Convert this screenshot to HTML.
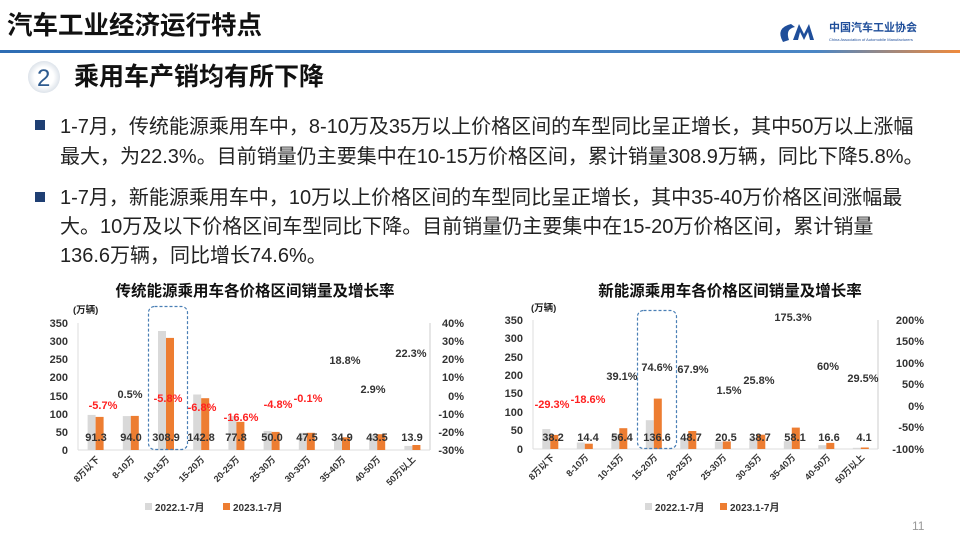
<!DOCTYPE html>
<html><head><meta charset="utf-8"><style>
body{margin:0;width:960px;height:539px;overflow:hidden;background:#fff;font-family:"Liberation Sans","Noto Sans CJK SC",sans-serif}
</style></head><body>
<svg width="960" height="539" viewBox="0 0 960 539" xmlns="http://www.w3.org/2000/svg" font-family="Liberation Sans, Noto Sans CJK SC, sans-serif">
<defs><linearGradient id="hl" x1="0" x2="1"><stop offset="0" stop-color="#2e6db4"/><stop offset="0.85" stop-color="#4a86c5"/><stop offset="1" stop-color="#f08a3c"/></linearGradient>
<radialGradient id="cg"><stop offset="0.6" stop-color="#fff"/><stop offset="1" stop-color="#dde3ea"/></radialGradient></defs>
<text x="7" y="34" font-size="25.5" font-weight="bold" fill="#111">汽车工业经济运行特点</text>
<path d="M783 42 q-8 -14 8 -18 l4 3 q-10 2 -6 13z M793 40 l6 -16 l5 10 l5 -10 l5 16 h-4 l-2 -8 l-4 8 l-4 -8 l-2 8z" fill="#1f4e9a"/>
<text x="829" y="31" font-size="11" font-weight="bold" fill="#1f4e9a">中国汽车工业协会</text>
<text x="829" y="41" font-size="4" fill="#1f4e9a">China Association of Automobile Manufacturers</text>
<rect x="0" y="50" width="960" height="3" fill="url(#hl)"/>
<circle cx="44" cy="77" r="16" fill="url(#cg)"/>
<text x="37" y="86" font-size="24" fill="#2e5b8f">2</text>
<text x="74" y="85" font-size="25" font-weight="bold" fill="#111">乘用车产销均有所下降</text>
<g font-size="20" fill="#222">
<rect x="35" y="120" width="10" height="10" fill="#1f3f73"/>
<text x="60" y="133">1-7月，传统能源乘用车中，8-10万及35万以上价格区间的车型同比呈正增长，其中50万以上涨幅</text>
<text x="60" y="163">最大，为22.3%。目前销量仍主要集中在10-15万价格区间，累计销量308.9万辆，同比下降5.8%。</text>
<rect x="35" y="192" width="10" height="10" fill="#1f3f73"/>
<text x="60" y="204">1-7月，新能源乘用车中，10万以上价格区间的车型同比呈正增长，其中35-40万价格区间涨幅最</text>
<text x="60" y="233">大。10万及以下价格区间车型同比下降。目前销量仍主要集中在15-20万价格区间，累计销量</text>
<text x="60" y="262">136.6万辆，同比增长74.6%。</text>
</g>
<!-- Left chart -->
<text x="255" y="296" font-size="15.5" font-weight="bold" text-anchor="middle" fill="#111">传统能源乘用车各价格区间销量及增长率</text>
<text x="73" y="313" font-size="9.5" font-weight="bold" fill="#222">(万辆)</text>
<g font-size="11" font-weight="bold" fill="#333" text-anchor="end">
<text x="68" y="327">350</text><text x="68" y="345">300</text><text x="68" y="363">250</text><text x="68" y="381">200</text><text x="68" y="400">150</text><text x="68" y="418">100</text><text x="68" y="436">50</text><text x="68" y="454">0</text>
</g>
<g font-size="11" font-weight="bold" fill="#333" text-anchor="end">
<text x="464" y="327">40%</text><text x="464" y="345">30%</text><text x="464" y="363">20%</text><text x="464" y="381">10%</text><text x="464" y="400">0%</text><text x="464" y="418">-10%</text><text x="464" y="436">-20%</text><text x="464" y="454">-30%</text>
</g>
<line x1="78" y1="323" x2="78" y2="450" stroke="#ddd"/><line x1="430" y1="323" x2="430" y2="450" stroke="#ccc"/><line x1="78" y1="450" x2="430" y2="450" stroke="#ddd"/>
<g fill="#d9d9d9">
<rect x="87.6" y="414.9" width="8" height="35.1"/><rect x="122.8" y="416.1" width="8" height="33.9"/><rect x="158" y="331" width="8" height="119"/><rect x="193.2" y="394.5" width="8" height="55.5"/><rect x="228.4" y="416.1" width="8" height="33.9"/><rect x="263.6" y="430.9" width="8" height="19.1"/><rect x="298.8" y="432.8" width="8" height="17.2"/><rect x="334" y="439.3" width="8" height="10.7"/><rect x="369.2" y="434.6" width="8" height="15.4"/><rect x="404.4" y="445.9" width="8" height="4.1"/>
</g>
<g fill="#ed7d31">
<rect x="95.6" y="416.9" width="8" height="33.1"/><rect x="130.8" y="415.9" width="8" height="34.1"/><rect x="166" y="337.9" width="8" height="112.1"/><rect x="201.2" y="398.2" width="8" height="51.8"/><rect x="236.4" y="421.8" width="8" height="28.2"/><rect x="271.6" y="431.9" width="8" height="18.1"/><rect x="306.8" y="432.8" width="8" height="17.2"/><rect x="342" y="437.3" width="8" height="12.7"/><rect x="377.2" y="434.2" width="8" height="15.8"/><rect x="412.4" y="445" width="8" height="5"/>
</g>
<rect x="148.5" y="306.5" width="39" height="143" rx="6" fill="none" stroke="#4a7fb5" stroke-width="1.2" stroke-dasharray="3,2"/>
<g font-size="11" font-weight="bold" fill="#333" text-anchor="middle">
<text x="96" y="441">91.3</text><text x="131" y="441">94.0</text><text x="166" y="441">308.9</text><text x="201" y="441">142.8</text><text x="236" y="441">77.8</text><text x="272" y="441">50.0</text><text x="307" y="441">47.5</text><text x="342" y="441">34.9</text><text x="377" y="441">43.5</text><text x="412" y="441">13.9</text>
<text x="130" y="398">0.5%</text><text x="345" y="364">18.8%</text><text x="373" y="393">2.9%</text><text x="411" y="357">22.3%</text>
</g>
<g font-size="11" font-weight="bold" fill="#ff2020" text-anchor="middle">
<text x="103" y="409">-5.7%</text><text x="168" y="402">-5.8%</text><text x="202" y="411">-6.8%</text><text x="241" y="421">-16.6%</text><text x="278" y="408">-4.8%</text><text x="308" y="402">-0.1%</text>
</g>
<g font-size="9" font-weight="bold" fill="#333" text-anchor="end">
<text transform="translate(100,460) rotate(-45)">8万以下</text><text transform="translate(135,460) rotate(-45)">8-10万</text><text transform="translate(170,460) rotate(-45)">10-15万</text><text transform="translate(205,460) rotate(-45)">15-20万</text><text transform="translate(240,460) rotate(-45)">20-25万</text><text transform="translate(276,460) rotate(-45)">25-30万</text><text transform="translate(311,460) rotate(-45)">30-35万</text><text transform="translate(346,460) rotate(-45)">35-40万</text><text transform="translate(381,460) rotate(-45)">40-50万</text><text transform="translate(416,460) rotate(-45)">50万以上</text>
</g>
<rect x="145" y="503" width="7" height="7" fill="#d9d9d9"/><text x="155" y="511" font-size="10" font-weight="bold" fill="#333">2022.1-7月</text>
<rect x="223" y="503" width="7" height="7" fill="#ed7d31"/><text x="233" y="511" font-size="10" font-weight="bold" fill="#333">2023.1-7月</text>
<!-- Right chart -->
<text x="730" y="296" font-size="15.5" font-weight="bold" text-anchor="middle" fill="#111">新能源乘用车各价格区间销量及增长率</text>
<text x="531" y="311" font-size="9.5" font-weight="bold" fill="#222">(万辆)</text>
<g font-size="11" font-weight="bold" fill="#333" text-anchor="end">
<text x="523" y="324">350</text><text x="523" y="342">300</text><text x="523" y="361">250</text><text x="523" y="379">200</text><text x="523" y="397">150</text><text x="523" y="416">100</text><text x="523" y="434">50</text><text x="523" y="453">0</text>
</g>
<g font-size="11" font-weight="bold" fill="#333" text-anchor="end">
<text x="924" y="324">200%</text><text x="924" y="345">150%</text><text x="924" y="367">100%</text><text x="924" y="388">50%</text><text x="924" y="410">0%</text><text x="924" y="431">-50%</text><text x="924" y="453">-100%</text>
</g>
<line x1="533" y1="320" x2="533" y2="449" stroke="#ddd"/><line x1="878" y1="320" x2="878" y2="449" stroke="#ccc"/><line x1="533" y1="449" x2="878" y2="449" stroke="#ddd"/>
<g fill="#d9d9d9">
<rect x="542.3" y="429.1" width="8" height="19.9"/><rect x="576.8" y="442.5" width="8" height="6.5"/><rect x="611.3" y="434.1" width="8" height="14.9"/><rect x="645.8" y="420.2" width="8" height="28.8"/><rect x="680.3" y="438.3" width="8" height="10.7"/><rect x="714.8" y="441.6" width="8" height="7.4"/><rect x="749.3" y="437.6" width="8" height="11.4"/><rect x="783.8" y="441.2" width="8" height="7.8"/><rect x="818.3" y="445.2" width="8" height="3.8"/><rect x="852.8" y="447.8" width="8" height="1.2"/>
</g>
<g fill="#ed7d31">
<rect x="550.3" y="434.9" width="8" height="14.1"/><rect x="584.8" y="443.7" width="8" height="5.3"/><rect x="619.3" y="428.2" width="8" height="20.8"/><rect x="653.8" y="398.6" width="8" height="50.4"/><rect x="688.3" y="431" width="8" height="18"/><rect x="722.8" y="441.4" width="8" height="7.6"/><rect x="757.3" y="434.7" width="8" height="14.3"/><rect x="791.8" y="427.6" width="8" height="21.4"/><rect x="826.3" y="442.9" width="8" height="6.1"/><rect x="860.8" y="447.5" width="8" height="1.5"/>
</g>
<rect x="637.5" y="310.5" width="39" height="138" rx="6" fill="none" stroke="#4a7fb5" stroke-width="1.2" stroke-dasharray="3,2"/>
<g font-size="11" font-weight="bold" fill="#333" text-anchor="middle">
<text x="553" y="441">38.2</text><text x="588" y="441">14.4</text><text x="622" y="441">56.4</text><text x="657" y="441">136.6</text><text x="691" y="441">48.7</text><text x="726" y="441">20.5</text><text x="760" y="441">38.7</text><text x="795" y="441">58.1</text><text x="829" y="441">16.6</text><text x="864" y="441">4.1</text>
<text x="622" y="380">39.1%</text><text x="657" y="371">74.6%</text><text x="693" y="373">67.9%</text><text x="729" y="394">1.5%</text><text x="759" y="384">25.8%</text><text x="793" y="321">175.3%</text><text x="828" y="370">60%</text><text x="863" y="382">29.5%</text>
</g>
<g font-size="11" font-weight="bold" fill="#ff2020" text-anchor="middle">
<text x="552" y="408">-29.3%</text><text x="588" y="403">-18.6%</text>
</g>
<g font-size="9" font-weight="bold" fill="#333" text-anchor="end">
<text transform="translate(555,458) rotate(-45)">8万以下</text><text transform="translate(589,458) rotate(-45)">8-10万</text><text transform="translate(624,458) rotate(-45)">10-15万</text><text transform="translate(658,458) rotate(-45)">15-20万</text><text transform="translate(693,458) rotate(-45)">20-25万</text><text transform="translate(727,458) rotate(-45)">25-30万</text><text transform="translate(762,458) rotate(-45)">30-35万</text><text transform="translate(796,458) rotate(-45)">35-40万</text><text transform="translate(831,458) rotate(-45)">40-50万</text><text transform="translate(865,458) rotate(-45)">50万以上</text>
</g>
<rect x="645" y="503" width="7" height="7" fill="#d9d9d9"/><text x="655" y="511" font-size="10" font-weight="bold" fill="#333">2022.1-7月</text>
<rect x="720" y="503" width="7" height="7" fill="#ed7d31"/><text x="730" y="511" font-size="10" font-weight="bold" fill="#333">2023.1-7月</text>
<text x="912" y="530" font-size="12" fill="#999">11</text>
</svg>
</body></html>
